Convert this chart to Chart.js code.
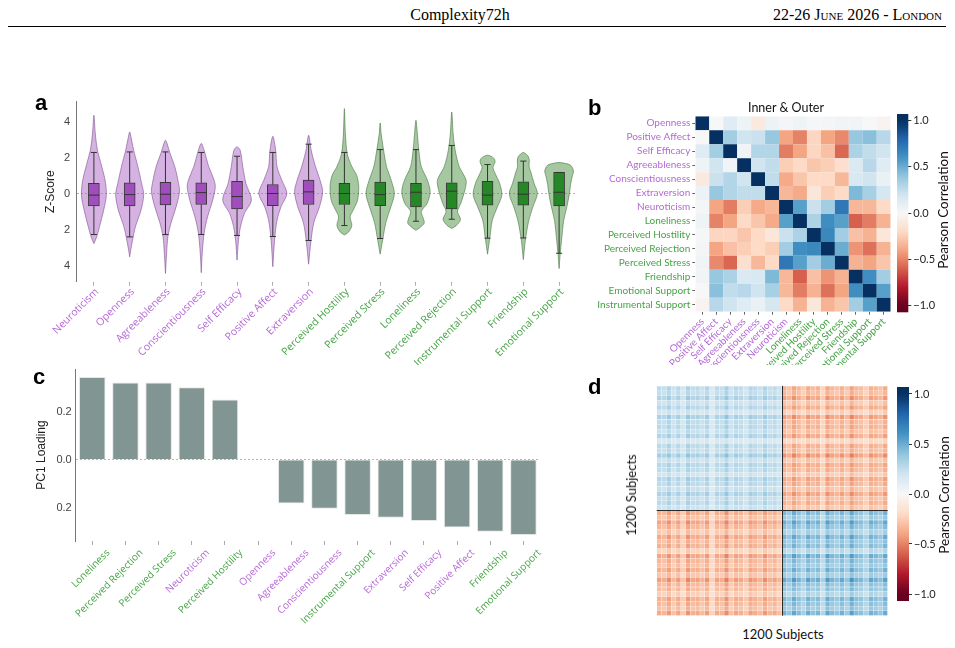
<!DOCTYPE html>
<html>
<head>
<meta charset="utf-8">
<script src="https://cdn.jsdelivr.net/npm/chart.js@4.4.1/dist/chart.umd.min.js"></script>
<style>
  body { margin: 0; background: #fff; }
  #page { position: relative; width: 955px; height: 648px; overflow: hidden; background: #fff; }
  canvas { position: absolute; }
  .txt { position: absolute; white-space: nowrap; color: #111; }
  .ctr { transform: translate(-50%, -50%); }
  .rot { transform: translate(-50%, -50%) rotate(-90deg); }
  .letter { position: absolute; font: bold 22px 'Liberation Sans', Arial, sans-serif; line-height: 22px; color: #000; }
</style>
</head>
<body>
<div id="page">
  <div class="txt" style="left:360px;top:7px;width:200px;text-align:center;font:16px 'Liberation Serif',serif;line-height:16px;color:#000">Complexity72h</div>
  <div class="txt" style="right:13px;top:7px;font:16px 'Liberation Serif',serif;font-variant:small-caps;line-height:16px;color:#000">22-26 June 2026 - London</div>
  <div style="position:absolute;left:8px;top:26px;width:938px;height:1px;background:#000"></div>

  <canvas id="chartA" width="565" height="275" style="left:30px;top:90px"></canvas>
  <canvas id="chartC" width="530" height="280" style="left:30px;top:355px"></canvas>
  <canvas id="chartB" width="310" height="270" style="left:590px;top:95px"></canvas>
  <canvas id="barB" width="50" height="220" style="left:890px;top:105px"></canvas>
  <canvas id="chartD" width="270" height="245" style="left:630px;top:378px"></canvas>
  <canvas id="barD" width="50" height="235" style="left:890px;top:378px"></canvas>

  <div class="letter" style="left:35px;top:92px">a</div>
  <div class="letter" style="left:588px;top:97px">b</div>
  <div class="letter" style="left:33px;top:366px">c</div>
  <div class="letter" style="left:588px;top:376px">d</div>

  <div class="txt ctr" style="left:786px;top:107px;font:12.5px Lato,sans-serif">Inner &amp; Outer</div>
  <div class="txt rot" style="left:943px;top:210px;font:13.5px Lato,sans-serif">Pearson Correlation</div>
  <div class="txt rot" style="left:944px;top:495px;font:13.5px Lato,sans-serif">Pearson Correlation</div>
  <div class="txt ctr" style="left:783px;top:634px;font:13px Lato,sans-serif">1200 Subjects</div>
  <div class="txt rot" style="left:631px;top:495px;font:13px Lato,sans-serif">1200 Subjects</div>
</div>

<script>
const traitColor = '#b56ad6';
const socialColor = '#45a445';

// ---- panel a: z-scored distributions ----
const violinLabels = ['Neuroticism', 'Openness', 'Agreeableness', 'Conscientiousness', 'Self Efficacy',
  'Positive Affect', 'Extraversion', 'Perceived Hostility', 'Perceived Stress', 'Loneliness',
  'Perceived Rejection', 'Instrumental Support', 'Friendship', 'Emotional Support'];
const violinGroup = ['trait', 'trait', 'trait', 'trait', 'trait', 'trait', 'trait',
  'social', 'social', 'social', 'social', 'social', 'social', 'social'];
const boxQ1 = [-0.69, -0.69, -0.63, -0.61, -0.85, -0.67, -0.61, -0.61, -0.67, -0.74, -0.85, -0.65, -0.65, -0.69];
const boxMedian = [-0.09, -0.06, -0.04, 0.05, -0.17, 0.0, 0.09, 0.0, -0.06, 0.07, 0.13, -0.09, -0.04, 0.07];
const boxQ3 = [0.57, 0.59, 0.62, 0.59, 0.68, 0.5, 0.74, 0.57, 0.63, 0.57, 0.59, 0.68, 0.65, 1.17];
const whiskerLow = [-2.28, -2.41, -2.28, -2.28, -2.33, -2.39, -2.61, -1.78, -2.5, -1.54, -1.43, -2.48, -2.47, -3.32];
const whiskerHigh = [2.28, 2.31, 2.31, 2.28, 2.07, 2.28, 2.74, 2.28, 2.44, 2.44, 2.67, 1.61, 1.8, 1.17];
// density outline per variable: [z, relative density], from top tip to bottom tip
const violinProfiles = [
  [[4.35, 0], [3.3, 0.1], [2.4, 0.25], [1.7, 0.48], [0.74, 0.78], [-0.1, 0.87], [-0.9, 0.69], [-1.85, 0.39], [-2.4, 0.2], [-2.78, 0]],
  [[3.42, 0], [3.1, 0.1], [2.4, 0.28], [1.5, 0.57], [0.57, 0.83], [-0.06, 0.98], [-0.9, 0.8], [-1.85, 0.4], [-2.6, 0.2], [-3.2, 0.06], [-3.52, 0]],
  [[2.96, 0], [2.8, 0.1], [2.25, 0.31], [1.5, 0.65], [0.57, 0.91], [0.1, 0.98], [-0.73, 0.75], [-1.6, 0.4], [-2.4, 0.17], [-3.3, 0.08], [-4.44, 0]],
  [[2.78, 0], [2.4, 0.2], [1.5, 0.52], [0.74, 0.9], [0.35, 0.98], [-0.37, 0.8], [-1.3, 0.44], [-2.2, 0.2], [-3.3, 0.07], [-4.4, 0]],
  [[2.59, 0], [2.4, 0.22], [1.5, 0.4], [0.57, 0.62], [-0.37, 1.0], [-1.1, 0.52], [-1.85, 0.24], [-2.6, 0.1], [-3.7, 0]],
  [[3.18, 0], [2.4, 0.2], [1.5, 0.29], [0.74, 0.63], [0.0, 0.98], [-0.74, 0.57], [-1.5, 0.29], [-2.6, 0.12], [-4.07, 0]],
  [[3.24, 0], [2.4, 0.18], [1.5, 0.48], [0.74, 0.8], [0.1, 0.98], [-0.74, 0.76], [-1.6, 0.37], [-2.6, 0.17], [-3.93, 0]],
  [[4.72, 0], [3.3, 0.07], [2.2, 0.2], [1.5, 0.52], [1.0, 0.86], [0.4, 1.0], [-0.37, 0.92], [-0.93, 0.61], [-1.3, 0.4], [-1.78, 0.52], [-2.15, 0.28], [-2.3, 0]],
  [[3.92, 0], [3.3, 0.07], [2.4, 0.24], [1.5, 0.44], [0.74, 0.77], [0.0, 0.99], [-0.74, 0.75], [-1.6, 0.4], [-2.6, 0.17], [-3.37, 0]],
  [[4.07, 0], [3.3, 0.1], [2.4, 0.2], [1.5, 0.37], [0.74, 0.8], [0.1, 0.99], [-0.55, 0.78], [-1.0, 0.37], [-1.4, 0.52], [-1.65, 0.57], [-1.9, 0.26], [-2.04, 0]],
  [[4.53, 0], [3.3, 0.1], [2.4, 0.24], [1.5, 0.52], [0.74, 1.0], [0.2, 0.92], [-0.55, 0.63], [-1.0, 0.4], [-1.45, 0.61], [-1.8, 0.29], [-1.94, 0]],
  [[2.13, 0], [1.95, 0.45], [1.74, 0.52], [1.45, 0.38], [1.1, 0.54], [0.57, 0.84], [-0.09, 1.0], [-0.74, 0.69], [-1.5, 0.33], [-2.4, 0.17], [-3.37, 0]],
  [[2.28, 0], [2.05, 0.35], [1.8, 0.42], [1.5, 0.4], [1.2, 0.52], [0.57, 0.75], [0.0, 0.98], [-0.74, 0.67], [-1.5, 0.38], [-2.6, 0.14], [-3.67, 0]],
  [[1.72, 0], [1.65, 0.55], [1.55, 0.83], [1.25, 1.0], [0.9, 0.9], [0.5, 0.8], [0.0, 0.72], [-0.74, 0.54], [-1.5, 0.32], [-2.6, 0.17], [-3.4, 0.07], [-4.17, 0]],
];

// ---- panel b: correlation between measures ----
const corrLabels = ['Openness', 'Positive Affect', 'Self Efficacy', 'Agreeableness', 'Conscientiousness',
  'Extraversion', 'Neuroticism', 'Loneliness', 'Perceived Hostility', 'Perceived Rejection',
  'Perceived Stress', 'Friendship', 'Emotional Support', 'Instrumental Support'];
const corrGroup = ['trait', 'trait', 'trait', 'trait', 'trait', 'trait', 'trait',
  'social', 'social', 'social', 'social', 'social', 'social', 'social'];
const corrMatrix = [
  [1, 0.0, 0.12, 0.05, -0.1, 0.06, 0.02, 0.05, 0.01, 0.02, 0.03, 0.03, 0.0, -0.03],
  [0.0, 1, 0.35, 0.2, 0.22, 0.38, -0.4, -0.5, -0.22, -0.4, -0.48, 0.38, 0.42, 0.28],
  [0.12, 0.35, 1, 0.03, 0.3, 0.3, -0.52, -0.4, -0.22, -0.3, -0.58, 0.32, 0.25, 0.2],
  [0.05, 0.2, 0.03, 1, 0.2, 0.25, -0.25, -0.2, -0.28, -0.25, -0.17, 0.15, 0.28, 0.12],
  [-0.1, 0.22, 0.3, 0.2, 1, 0.25, -0.38, -0.28, -0.2, -0.2, -0.33, 0.16, 0.2, 0.07],
  [0.06, 0.38, 0.3, 0.25, 0.25, 1, -0.33, -0.38, -0.12, -0.25, -0.2, 0.45, 0.33, 0.18],
  [0.02, -0.4, -0.52, -0.25, -0.38, -0.33, 1, 0.55, 0.22, 0.35, 0.72, -0.33, -0.33, -0.2],
  [0.05, -0.5, -0.4, -0.2, -0.28, -0.38, 0.55, 1, 0.32, 0.62, 0.55, -0.6, -0.52, -0.35],
  [0.01, -0.22, -0.22, -0.28, -0.2, -0.12, 0.22, 0.32, 1, 0.65, 0.35, -0.3, -0.35, -0.12],
  [0.02, -0.4, -0.3, -0.25, -0.2, -0.25, 0.35, 0.62, 0.65, 1, 0.5, -0.45, -0.55, -0.35],
  [0.03, -0.48, -0.58, -0.17, -0.33, -0.2, 0.72, 0.55, 0.35, 0.5, 1, -0.35, -0.4, -0.28],
  [0.03, 0.38, 0.32, 0.15, 0.16, 0.45, -0.33, -0.6, -0.3, -0.45, -0.35, 1, 0.62, 0.35],
  [0.0, 0.42, 0.25, 0.28, 0.2, 0.33, -0.33, -0.52, -0.35, -0.55, -0.4, 0.62, 1, 0.55],
  [-0.03, 0.28, 0.2, 0.12, 0.07, 0.18, -0.2, -0.35, -0.12, -0.35, -0.28, 0.35, 0.55, 1],
];

// ---- panel c: PC1 loadings ----
const pcaLabels = ['Loneliness', 'Perceived Rejection', 'Perceived Stress', 'Neuroticism', 'Perceived Hostility',
  'Openness', 'Agreeableness', 'Conscientiousness', 'Instrumental Support', 'Extraversion',
  'Self Efficacy', 'Positive Affect', 'Friendship', 'Emotional Support'];
const pcaGroup = ['social', 'social', 'social', 'trait', 'social', 'trait', 'trait', 'trait',
  'social', 'trait', 'trait', 'trait', 'social', 'social'];
const pcaLoadings = [0.346, 0.323, 0.323, 0.304, 0.252, 0.002, -0.183, -0.205, -0.231, -0.243, -0.256, -0.283, -0.301, -0.315];

// ---- panel d: subject x subject correlation, in subject blocks ----
const strengthGroupA = [1.0, 0.9, 1.15, 0.8, 1.05, 0.7, 1.2, 0.95, 1.0, 0.85, 1.1, 0.6, 1.0,
  0.9, 1.25, 0.8, 1.05, 0.95, 0.75, 1.1, 1.0, 0.85, 1.15, 0.9, 1.0, 0.8];
const strengthGroupB = [1.1, 0.9, 1.2, 1.0, 0.8, 1.15, 0.95, 1.05, 0.7, 1.2, 1.0,
  0.9, 1.1, 0.85, 1.25, 1.0, 0.95, 0.75, 1.1, 1.0, 0.9, 1.15];
const blockMean = [[0.27, -0.33], [-0.33, 0.38]];

const colorbarTicks = [-1, -0.5, 0, 0.5, 1];

// RdBu diverging map, -1 red .. +1 blue
const rdbuStops = [[103, 0, 31], [178, 24, 43], [214, 96, 77], [244, 165, 130], [253, 219, 199], [247, 247, 247],
  [209, 229, 240], [146, 197, 222], [67, 147, 195], [33, 102, 172], [5, 48, 97]];
function rdbu(v) {
  const t = Math.max(0, Math.min(1, (v + 1) / 2)) * 10;
  const i = Math.min(9, Math.floor(t));
  const f = t - i;
  const a = rdbuStops[i], b = rdbuStops[i + 1];
  return 'rgb(' + a.map((c, k) => Math.round(c + (b[k] - c) * f)).join(',') + ')';
}
const groupColor = (g) => (g === 'trait' ? traitColor : socialColor);
const indexTicks = (n) => (scale) => { scale.ticks = Array.from({ length: n }, (_, i) => ({ value: i })); };

Chart.defaults.animation = false;
Chart.defaults.plugins.legend.display = false;
Chart.defaults.plugins.tooltip.enabled = false;

// ================= panel a =================
const VIOLIN_HALF = 0.4;
const violinSets = violinProfiles.map((prof, i) => {
  const right = prof.slice().reverse().map(([z, d]) => ({ x: i + d * VIOLIN_HALF, y: z }));
  const left = prof.slice(1).map(([z, d]) => ({ x: i - d * VIOLIN_HALF, y: z }));
  const trait = violinGroup[i] === 'trait';
  return {
    type: 'line',
    data: right.concat(left),
    fill: 'shape',
    backgroundColor: trait ? 'rgba(171,101,197,0.5)' : 'rgba(75,145,65,0.5)',
    borderColor: trait ? 'rgba(125,80,145,0.75)' : 'rgba(70,115,65,0.75)',
    borderWidth: 0.8,
    pointRadius: 0,
    tension: 0.3,
    order: 3,
  };
});

const whiskerPts = [];
violinLabels.forEach((_, i) => {
  const cap = 0.085, half = 0.155;
  whiskerPts.push({ x: i, y: whiskerLow[i] }, { x: i, y: boxQ1[i] }, { x: i, y: null });
  whiskerPts.push({ x: i, y: boxQ3[i] }, { x: i, y: whiskerHigh[i] }, { x: i, y: null });
  whiskerPts.push({ x: i - cap, y: whiskerLow[i] }, { x: i + cap, y: whiskerLow[i] }, { x: i, y: null });
  whiskerPts.push({ x: i - cap, y: whiskerHigh[i] }, { x: i + cap, y: whiskerHigh[i] }, { x: i, y: null });
  whiskerPts.push({ x: i - half, y: boxMedian[i] }, { x: i + half, y: boxMedian[i] }, { x: i, y: null });
});

new Chart(document.getElementById('chartA'), {
  type: 'bar',
  data: {
    datasets: [
      ...violinSets,
      {
        type: 'bar',
        data: violinLabels.map((_, i) => ({ x: i, y: [boxQ1[i], boxQ3[i]] })),
        backgroundColor: violinGroup.map((g) => (g === 'trait' ? '#a14ebd' : '#268726')),
        borderColor: '#3a3a3a',
        borderWidth: 1,
        borderSkipped: false,
        barThickness: 11,
        order: 2,
      },
      {
        type: 'line',
        data: whiskerPts,
        borderColor: '#333',
        borderWidth: 1,
        pointRadius: 0,
        fill: false,
        spanGaps: false,
        order: 1,
      },
    ],
  },
  options: {
    responsive: false,
    layout: { padding: { top: 11.7, right: 18, left: 0, bottom: 0 } },
    scales: {
      x: {
        type: 'linear', min: -0.5, max: 13.5, offset: false,
        afterBuildTicks: indexTicks(14),
        afterFit: (s) => { s.height = 83.3; },
        ticks: {
          autoSkip: false, minRotation: 45, maxRotation: 45, padding: 0, labelOffset: 3,
          color: (c) => groupColor(violinGroup[c.index]),
          font: { family: 'Open Sans', size: 10.5 },
          callback: (v) => violinLabels[v],
        },
        grid: { display: true, drawOnChartArea: false, tickLength: 4, tickColor: '#aaa', offset: false },
        border: { display: false },
      },
      y: {
        min: -4.9, max: 5.1,
        afterBuildTicks: (s) => { s.ticks = [-4, -2, 0, 2, 4].map((v) => ({ value: v })); },
        afterFit: (s) => { s.width = 46; },
        ticks: { color: '#444', padding: 4, font: { family: 'Liberation Sans', size: 11 }, callback: (v) => String(Math.abs(v)) },
        grid: { color: (c) => (c.tick && c.tick.value === 0 ? '#b5b5b5' : 'rgba(0,0,0,0)'), tickColor: 'rgba(0,0,0,0)', tickLength: 2 },
        border: { display: true, color: '#777', dash: [2, 2] },
        title: { display: true, text: 'Z-Score', color: '#222', font: { family: 'Liberation Sans', size: 12 }, padding: { top: 13, bottom: 0 } },
      },
    },
  },
});

// ================= panel c =================
new Chart(document.getElementById('chartC'), {
  type: 'bar',
  data: {
    labels: pcaLabels,
    datasets: [{
      data: pcaLoadings,
      backgroundColor: '#819592',
      borderColor: '#e3e8e7',
      borderWidth: 1,
      barPercentage: 0.8,
      categoryPercentage: 1.0,
    }],
  },
  options: {
    responsive: false,
    layout: { padding: { top: 14, right: 20, left: 0, bottom: 0 } },
    scales: {
      x: {
        afterFit: (s) => { s.height = 94; },
        ticks: {
          autoSkip: false, minRotation: 45, maxRotation: 45, padding: 2, labelOffset: 16,
          color: (c) => groupColor(pcaGroup[c.index]),
          font: { family: 'Open Sans', size: 10 },
        },
        grid: { display: true, drawOnChartArea: false, tickLength: 4, tickColor: '#aaa', offset: false },
        border: { display: false },
      },
      y: {
        min: -0.34, max: 0.38,
        afterBuildTicks: (s) => { s.ticks = [-0.2, 0, 0.2].map((v) => ({ value: v })); },
        afterFit: (s) => { s.width = 45.7; },
        ticks: { color: '#444', padding: 3, font: { family: 'Liberation Sans', size: 11 }, callback: (v) => Math.abs(v).toFixed(1) },
        grid: { color: (c) => (c.tick && c.tick.value === 0 ? '#b5b5b5' : 'rgba(0,0,0,0)'), tickColor: 'rgba(0,0,0,0)', tickLength: 1 },
        border: { display: true, color: '#777', dash: [2, 2] },
        title: { display: true, text: 'PC1 Loading', color: '#222', font: { family: 'Liberation Sans', size: 12 }, padding: { top: 4, bottom: 0 } },
      },
    },
  },
});

// ================= panel b =================
const corrCells = [];
corrMatrix.forEach((row, r) => row.forEach((v, c) => corrCells.push({ x: c, y: r, v })));
const cellRadius = (n, gap) => (ctx) => {
  const a = ctx.chart.chartArea;
  if (!a) return 3;
  const side = Math.min((a.right - a.left), (a.bottom - a.top)) / n - gap;
  return side / Math.SQRT2;
};

new Chart(document.getElementById('chartB'), {
  type: 'scatter',
  data: {
    datasets: [{
      data: corrCells,
      pointStyle: 'rect',
      pointRadius: cellRadius(14, 0),
      pointHoverRadius: cellRadius(14, 0),
      pointBackgroundColor: (c) => rdbu(c.raw ? c.raw.v : 0),
      pointBorderWidth: 0,
    }],
  },
  options: {
    responsive: false,
    layout: { padding: { top: 21.3, right: 9.3, left: 0, bottom: 0 } },
    scales: {
      x: {
        type: 'linear', min: -0.5, max: 13.5,
        afterBuildTicks: indexTicks(14),
        afterFit: (s) => { s.height = 53.3; },
        ticks: {
          autoSkip: false, minRotation: 45, maxRotation: 45, padding: 1,
          color: (c) => groupColor(corrGroup[c.index]),
          font: { family: 'Lato', size: 10 },
          callback: (v) => corrLabels[v],
        },
        grid: { display: true, drawOnChartArea: false, tickLength: 3, tickColor: '#666' },
        border: { display: false },
      },
      y: {
        type: 'linear', min: -0.5, max: 13.5, reverse: true,
        afterBuildTicks: indexTicks(14),
        afterFit: (s) => { s.width = 105.3; },
        ticks: {
          autoSkip: false, padding: 2,
          color: (c) => groupColor(corrGroup[c.index]),
          font: { family: 'Lato', size: 10 },
          callback: (v) => corrLabels[v],
        },
        grid: { display: true, drawOnChartArea: false, tickLength: 3, tickColor: '#666' },
        border: { display: false },
      },
    },
  },
});

// ================= colorbars =================
const colorbarFill = {
  id: 'colorbarFill',
  beforeDatasetsDraw(chart) {
    const { ctx, chartArea: a, scales: { y } } = chart;
    const yTop = y.getPixelForValue(y.max), yBot = y.getPixelForValue(y.min);
    const g = ctx.createLinearGradient(0, yBot, 0, yTop);
    for (let k = 0; k <= 40; k++) {
      g.addColorStop(k / 40, rdbu(y.min + (y.max - y.min) * k / 40));
    }
    ctx.save();
    ctx.fillStyle = g;
    ctx.fillRect(a.left, a.top, a.right - a.left, a.bottom - a.top);
    ctx.restore();
  },
};
function makeColorbar(id, pad, axisWidth) {
  return new Chart(document.getElementById(id), {
    type: 'scatter',
    data: { datasets: [] },
    plugins: [colorbarFill],
    options: {
      responsive: false,
      layout: { padding: pad },
      scales: {
        x: { display: false },
        y: {
          position: 'right', min: -1.07, max: 1.07,
          afterBuildTicks: (s) => { s.ticks = colorbarTicks.map((v) => ({ value: v })); },
          afterFit: (s) => { s.width = axisWidth; },
          ticks: {
            color: '#222', padding: 2, font: { family: 'Lato', size: 11 },
            callback: (v) => (v < 0 ? '\u2212' : '') + Math.abs(v).toFixed(1),
          },
          grid: { display: true, drawOnChartArea: false, tickLength: 3, tickColor: '#333' },
          border: { display: false },
        },
      },
    },
  });
}
makeColorbar('barB', { left: 7, top: 9, right: 0, bottom: 12.7 }, 31.7);
makeColorbar('barD', { left: 7, top: 9, right: 0, bottom: 12 }, 31);

// ================= panel d =================
const subjectStrength = strengthGroupA.concat(strengthGroupB);
const splitAt = strengthGroupA.length;
const nGroups = subjectStrength.length;
const subjectCells = [];
for (let i = 0; i < nGroups; i++) {
  for (let j = 0; j < nGroups; j++) {
    const bi = i < splitAt ? 0 : 1, bj = j < splitAt ? 0 : 1;
    subjectCells.push({ x: j + 0.5, y: i + 0.5, v: blockMean[bi][bj] * subjectStrength[i] * subjectStrength[j] });
  }
}
const quadrantLines = {
  id: 'quadrantLines',
  afterDatasetsDraw(chart) {
    const { ctx, chartArea: a, scales: { x, y } } = chart;
    const px = Math.round(x.getPixelForValue(splitAt)) + 0.5;
    const py = Math.round(y.getPixelForValue(splitAt)) + 0.5;
    ctx.save();
    ctx.strokeStyle = '#2a2a2a';
    ctx.lineWidth = 1;
    ctx.beginPath();
    ctx.moveTo(px, a.top); ctx.lineTo(px, a.bottom);
    ctx.moveTo(a.left, py); ctx.lineTo(a.right, py);
    ctx.stroke();
    ctx.restore();
  },
};
new Chart(document.getElementById('chartD'), {
  type: 'scatter',
  data: {
    datasets: [{
      data: subjectCells,
      pointStyle: 'rect',
      pointRadius: cellRadius(nGroups, 0.3),
      pointHoverRadius: cellRadius(nGroups, 0.3),
      pointBackgroundColor: (c) => rdbu(c.raw ? c.raw.v : 0),
      pointBorderWidth: 0,
    }],
  },
  plugins: [quadrantLines],
  options: {
    responsive: false,
    layout: { padding: { left: 26.7, top: 8, right: 12.3, bottom: 7.3 } },
    scales: {
      x: { type: 'linear', min: 0, max: nGroups, display: false },
      y: { type: 'linear', min: 0, max: nGroups, reverse: true, display: false },
    },
  },
});
</script>
</body>
</html>
